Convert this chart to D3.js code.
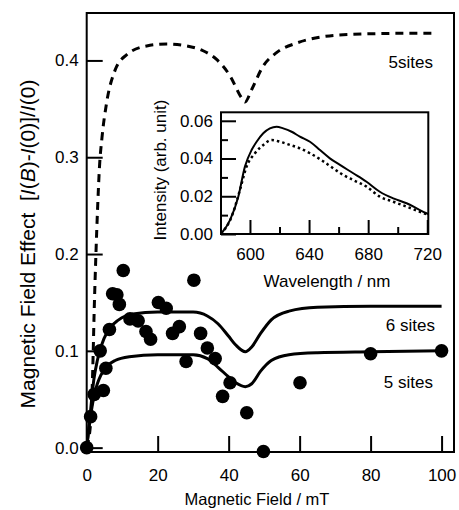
<!DOCTYPE html>
<html>
<head>
<meta charset="utf-8">
<script src="https://cdn.jsdelivr.net/npm/d3@7"></script>
<style>
  body { margin: 0; background: #fff; }
  svg text { font-family: "Liberation Sans", Arial, sans-serif; fill: #000; }
</style>
</head>
<body>
<svg id="chart" width="459" height="510"></svg>
<script>
// measured points (field in mT, effect)
const obsField  = [0, 1.1, 2.1, 3.8, 4.7, 5.4, 6.4, 7.3, 8.5, 9.2, 10.3, 12.2, 14.5, 16.7, 18.0, 20.2, 22.4, 24.2, 26.1, 28.0, 30.2, 32.1, 34.0, 36.2, 38.3, 40.4, 45.1, 49.8, 60.1, 80.0, 100];
const obsEffect = [0, 0.032, 0.055, 0.100, 0.059, 0.082, 0.122, 0.159, 0.158, 0.148, 0.183, 0.133, 0.131, 0.120, 0.112, 0.150, 0.144, 0.118, 0.125, 0.089, 0.173, 0.118, 0.103, 0.092, 0.053, 0.067, 0.036, -0.004, 0.067, 0.097, 0.100];

// simulated curves
const sim6Field  = [0, 1, 2, 3, 4, 6, 9, 13, 20, 30, 34, 37, 40, 42, 44.7, 46.5, 49, 52, 57, 65, 80, 100];
const sim6Effect = [0, 0.035, 0.070, 0.090, 0.104, 0.121, 0.132, 0.138, 0.140, 0.140, 0.136, 0.128, 0.115, 0.106, 0.099, 0.104, 0.118, 0.132, 0.141, 0.145, 0.146, 0.146];

const sim5Field  = [0, 1, 2, 3, 4, 6, 8, 12, 20, 30, 34, 37, 40, 42, 44.7, 46.5, 49, 52, 57, 65, 80, 100];
const sim5Effect = [0, 0.030, 0.052, 0.066, 0.075, 0.085, 0.090, 0.094, 0.096, 0.096, 0.092, 0.083, 0.073, 0.067, 0.063, 0.066, 0.079, 0.090, 0.096, 0.098, 0.099, 0.100];

const sim5bField  = [0, 1.2, 1.7, 2.1, 2.6, 3.1, 3.6, 4.3, 5.6, 8, 11.3, 16.9, 22.5, 28.2, 32.8, 36.6, 40.4, 43.7, 44.6, 46.5, 49.7, 53.5, 59.2, 65.7, 75.1, 89.2, 98.1];
const sim5bEffect = [0, 0.030, 0.080, 0.140, 0.200, 0.250, 0.290, 0.320, 0.356, 0.390, 0.406, 0.415, 0.417, 0.415, 0.410, 0.401, 0.384, 0.361, 0.357, 0.370, 0.394, 0.408, 0.418, 0.424, 0.427, 0.428, 0.428];

const fieldTicks  = [0, 20, 40, 60, 80, 100];
const effectTicks = [0, 0.1, 0.2, 0.3, 0.4];

// inset spectra
const waveSolid = [580.4, 586.5, 592.1, 596.6, 601.1, 604.5, 609, 613.5, 618, 622.5, 628.2, 633.8, 640.6, 647.4, 654.1, 660.9, 669.9, 678.9, 687.9, 697, 706, 715, 720.6];
const intSolid  = [0, 0.0074, 0.0198, 0.0357, 0.0445, 0.0489, 0.0534, 0.056, 0.0569, 0.056, 0.0542, 0.0516, 0.0489, 0.0445, 0.0401, 0.0366, 0.0322, 0.0277, 0.0224, 0.0189, 0.0163, 0.0127, 0.0106];
const waveDot = [580.4, 587.6, 593.2, 597.7, 603.4, 609, 614.7, 620.3, 627.1, 633.8, 640.6, 648.3, 656.4, 663.1, 669.9, 678.9, 687.9, 697, 706, 715, 720.6];
const intDot  = [0, 0.0092, 0.0233, 0.0357, 0.0428, 0.0472, 0.0498, 0.0489, 0.0472, 0.0454, 0.0428, 0.0392, 0.0348, 0.0313, 0.0286, 0.0251, 0.0198, 0.0171, 0.0145, 0.0118, 0.0101];

const waveTicks = [600, 640, 680, 720];
const waveMinor = [620, 660, 700];
const intTicks  = [0, 0.02, 0.04, 0.06];
const intMinor  = [0.01, 0.03, 0.05];

const svg = d3.select('#chart');

// main panel
const mL = 86.7, mR = 454, mT = 13, mB = 452;
const x = d3.scaleLinear().domain([0, 103.5]).range([mL, mR]);
const y = d3.scaleLinear().domain([-0.0045, 0.449]).range([mB, mT]);

const xAxis = svg.append('g')
  .attr('transform', `translate(0,${mB})`)
  .call(d3.axisBottom(x).tickValues(fieldTicks).tickFormat(d3.format('d')).tickSize(-16).tickPadding(17));
const yAxis = svg.append('g')
  .attr('transform', `translate(${mL},0)`)
  .call(d3.axisLeft(y).tickValues(effectTicks).tickFormat(d3.format('.1f')).tickSize(-16).tickPadding(8));
[xAxis, yAxis].forEach(a => {
  a.select('.domain').remove();
  a.selectAll('line').attr('stroke', '#000').attr('stroke-width', 2);
  a.selectAll('text').style('font-size', '17px');
});

svg.append('rect')
  .attr('x', mL).attr('y', mT)
  .attr('width', mR - mL).attr('height', mB - mT)
  .attr('fill', 'none').attr('stroke', '#000').attr('stroke-width', 2);

const line = d3.line()
  .x(d => x(d[0])).y(d => y(d[1]))
  .curve(d3.curveMonotoneX);

svg.append('path')
  .datum(d3.zip(sim5bField, sim5bEffect))
  .attr('d', line)
  .attr('fill', 'none').attr('stroke', '#000')
  .attr('stroke-width', 3).attr('stroke-dasharray', '8,6');

[[sim6Field, sim6Effect], [sim5Field, sim5Effect]].forEach(s => {
  svg.append('path')
    .datum(d3.zip(s[0], s[1]))
    .attr('d', line)
    .attr('fill', 'none').attr('stroke', '#000').attr('stroke-width', 3);
});

svg.append('g').selectAll('circle')
  .data(d3.zip(obsField, obsEffect))
  .join('circle')
  .attr('cx', d => x(d[0])).attr('cy', d => y(d[1]))
  .attr('r', 6.8).attr('fill', '#000');

svg.append('text').attr('x', 433).attr('y', 68)
  .attr('text-anchor', 'end').style('font-size', '17px').text('5sites');
svg.append('text').attr('x', 435).attr('y', 331)
  .attr('text-anchor', 'end').style('font-size', '17px').text('6 sites');
svg.append('text').attr('x', 433).attr('y', 388)
  .attr('text-anchor', 'end').style('font-size', '17px').text('5 sites');

// axis titles
svg.append('text').attr('x', 257).attr('y', 505)
  .attr('text-anchor', 'middle').style('font-size', '16.5px').text('Magnetic Field / mT');

const yt = svg.append('text')
  .attr('transform', 'translate(35,244) rotate(-90)')
  .attr('text-anchor', 'middle').style('font-size', '21px');
yt.append('tspan').text('Magnetic Field Effect \u00a0[');
yt.append('tspan').style('font-style', 'italic').text('I');
yt.append('tspan').text('(');
yt.append('tspan').style('font-style', 'italic').text('B');
yt.append('tspan').text(')-');
yt.append('tspan').style('font-style', 'italic').text('I');
yt.append('tspan').text('(0)]/');
yt.append('tspan').style('font-style', 'italic').text('I');
yt.append('tspan').text('(0)');

// inset
const iL = 221, iR = 428.3, iT = 112.3, iB = 234;
const xi = d3.scaleLinear().domain([580.4, 720.7]).range([iL, iR]);
const yi = d3.scaleLinear().domain([0, 0.0645]).range([iB, iT]);

svg.append('rect')
  .attr('x', iL).attr('y', iT).attr('width', iR - iL).attr('height', iB - iT)
  .attr('fill', '#fff');

const xiAxis = svg.append('g')
  .attr('transform', `translate(0,${iB})`)
  .call(d3.axisBottom(xi).tickValues(waveTicks).tickFormat(d3.format('d')).tickSize(-14).tickPadding(14));
const xiMinor = svg.append('g')
  .attr('transform', `translate(0,${iB})`)
  .call(d3.axisBottom(xi).tickValues(waveMinor).tickFormat('').tickSize(-7));
const yiAxis = svg.append('g')
  .attr('transform', `translate(${iL},0)`)
  .call(d3.axisLeft(yi).tickValues(intTicks).tickFormat(d3.format('.2f')).tickSize(-15).tickPadding(8));
const yiMinor = svg.append('g')
  .attr('transform', `translate(${iL},0)`)
  .call(d3.axisLeft(yi).tickValues(intMinor).tickFormat('').tickSize(-7));
[xiAxis, xiMinor, yiAxis, yiMinor].forEach(a => {
  a.select('.domain').remove();
  a.selectAll('line').attr('stroke', '#000').attr('stroke-width', 2);
  a.selectAll('text').style('font-size', '17px');
});

const iline = d3.line()
  .x(d => xi(d[0])).y(d => yi(d[1]))
  .curve(d3.curveMonotoneX);

svg.append('path')
  .datum(d3.zip(waveDot, intDot))
  .attr('d', iline)
  .attr('fill', 'none').attr('stroke', '#000')
  .attr('stroke-width', 2.5).attr('stroke-dasharray', '2.5,3');
svg.append('path')
  .datum(d3.zip(waveSolid, intSolid))
  .attr('d', iline)
  .attr('fill', 'none').attr('stroke', '#000').attr('stroke-width', 2);

svg.append('rect')
  .attr('x', iL).attr('y', iT).attr('width', iR - iL).attr('height', iB - iT)
  .attr('fill', 'none').attr('stroke', '#000').attr('stroke-width', 2);

svg.append('text').attr('x', 327).attr('y', 287)
  .attr('text-anchor', 'middle').style('font-size', '17px').text('Wavelength / nm');
svg.append('text')
  .attr('transform', 'translate(166,170) rotate(-90)')
  .attr('text-anchor', 'middle').style('font-size', '17px').text('Intensity (arb. unit)');
</script>
</body>
</html>
